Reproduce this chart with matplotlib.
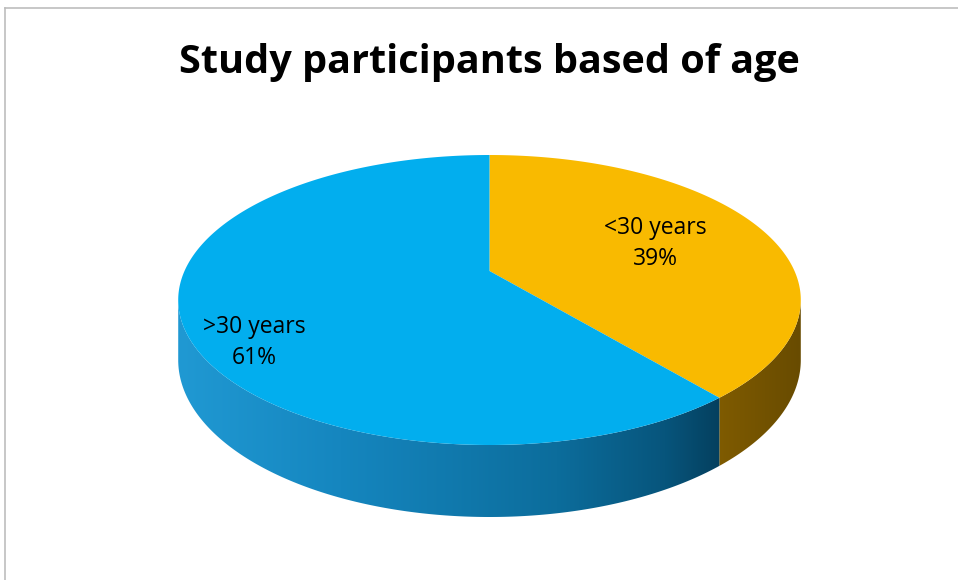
import numpy as np
import matplotlib
matplotlib.use("Agg")
import matplotlib.pyplot as plt
from matplotlib.patches import Polygon
from matplotlib.colors import LinearSegmentedColormap
from matplotlib.lines import Line2D

# ---- data ----
categories = ["<30 years", ">30 years"]
percent = [39, 61]
top_colors = ["#F9BA00", "#02AEEE"]
side_stops = [
    [(0.0, "#7f5b00"), (1.0, "#684b00")],
    [(0.0, "#2099d3"), (0.3, "#1586bf"), (0.7, "#0c6d9c"), (0.9, "#07557c"), (1.0, "#05405f")],
]
title = "Study participants based of age"

# ---- layout (pixel space) ----
W, H = 958, 580
fig = plt.figure(figsize=(W / 100, H / 100), dpi=100)
ax = fig.add_axes([0, 0, 1, 1])
ax.set_xlim(0, W)
ax.set_ylim(H, 0)
ax.axis("off")

cx, cy = 489.5, 271.0
A, B, k = 305.0, 139.2, 0.2
D = 57.6


def proj(theta_deg, r=1.0, dz=0.0):
    t = np.radians(theta_deg)
    u = r * np.cos(t)
    v = r * np.sin(t)
    w = 1 + k * v
    return cx + A * u / w, cy - B * v / w + D * dz / w


# silhouette angles
phi_s = np.degrees(np.arcsin(-k))
vis_lo, vis_hi = -180 - phi_s, phi_s

fracs = np.array(percent, dtype=float) / sum(percent)
start = 90.0
wedges = []
for f in fracs:
    end = start - f * 360.0
    wedges.append((end, start))
    start = end

# sides
for i, (a0, a1) in enumerate(wedges):
    for shift in (0, 360, -360):
        lo = max(a0 + shift, vis_lo)
        hi = min(a1 + shift, vis_hi)
        if hi > lo:
            th = np.linspace(lo, hi, 200)
            top = [proj(t) for t in th]
            bot = [proj(t, dz=1.0) for t in th[::-1]]
            pts = np.array(top + bot)
            poly = Polygon(pts, closed=True, facecolor="none", edgecolor="none")
            ax.add_patch(poly)
            cmap = LinearSegmentedColormap.from_list("s%d" % i, side_stops[i])
            x0, x1 = pts[:, 0].min(), pts[:, 0].max()
            y0, y1 = pts[:, 1].min(), pts[:, 1].max()
            grad = np.linspace(0, 1, 256)[None, :]
            im = ax.imshow(grad, cmap=cmap, extent=(x0, x1, y1, y0),
                           aspect="auto", zorder=1, interpolation="bilinear")
            im.set_clip_path(poly)

# tops
for i, (a0, a1) in enumerate(wedges):
    th = np.linspace(a0, a1, 300)
    pts = [proj(0, r=0.0)] + [proj(t) for t in th]
    ax.add_patch(Polygon(pts, closed=True, facecolor=top_colors[i],
                         edgecolor="none", zorder=2))

# labels
label_pos = [(0.6, 0.0, 0), (0.84, 14.0, 0)]
for i, (a0, a1) in enumerate(wedges):
    r, dang, dy = label_pos[i]
    mid = (a0 + a1) / 2 + dang
    lx, ly = proj(mid, r=r)
    ax.text(lx, ly + dy, f"{categories[i]}\n{percent[i]}%", ha="center",
            va="center", fontsize=16.5, family="Open Sans", color="black",
            linespacing=1.4, zorder=3)

ax.text(W / 2 + 10, 62, title, ha="center", va="center", fontsize=28.5,
        fontweight="bold", family="Open Sans", color="black")

# chart border
fig.add_artist(Line2D([5 / W, 5 / W], [0, 1 - 8 / H], transform=fig.transFigure,
                      color="#bdbdbd", lw=1.2))
fig.add_artist(Line2D([5 / W, 1], [1 - 8 / H, 1 - 8 / H], transform=fig.transFigure,
                      color="#bdbdbd", lw=1.2))

fig.savefig("out.png", dpi=100)
